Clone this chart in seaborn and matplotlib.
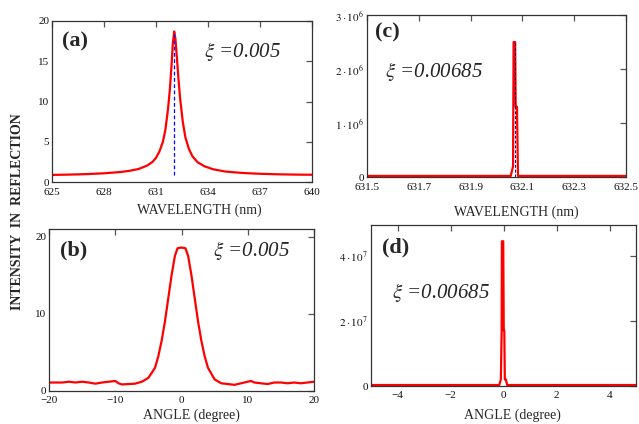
import numpy as np
import pandas as pd
import matplotlib
matplotlib.use("Agg")
import matplotlib.pyplot as plt
import seaborn as sns
from matplotlib.ticker import FuncFormatter

sns.set_style("white")
plt.rcParams['font.family'] = ['Liberation Serif', 'DejaVu Serif']
plt.rcParams['mathtext.fontset'] = 'stix'
plt.rcParams['axes.unicode_minus'] = True

# ---- data ----
wl_a = [625, 626, 627, 628, 629, 629.5, 630, 630.5, 630.8, 631.0, 631.2, 631.4, 631.55,
        631.7, 631.8, 631.9, 631.97, 632.05, 632.12, 632.2, 632.3, 632.4, 632.55, 632.7,
        632.9, 633.1, 633.4, 633.8, 634.3, 635, 636, 637, 638, 639, 640]
int_a = [0.88, 0.92, 0.98, 1.08, 1.25, 1.4, 1.62, 2.05, 2.5, 3.0, 3.8, 5.0, 6.6,
         9.2, 11.5, 14.6, 17.2, 18.7, 17.8, 15.6, 12.7, 10.2, 7.4, 5.5,
         4.1, 3.2, 2.45, 1.95, 1.58, 1.3, 1.12, 1.02, 0.96, 0.92, 0.9]
peak_a = 632.05

ang_b = [-20, -18, -17, -16, -15, -14, -13, -12, -11, -10, -9.5, -9, -8, -7, -6, -5,
         -4, -3.5, -3, -2.5, -2, -1.5, -1, -0.6, 0, 0.6, 1, 1.5, 2, 2.5, 3, 3.5, 4,
         5, 6, 7, 8, 9, 10, 10.5, 11, 12, 13, 14, 15, 16, 17, 18, 19, 20]
int_b = [1.1, 1.1, 1.2, 1.1, 1.2, 1.1, 0.95, 1.1, 1.2, 1.3, 1.0, 0.85, 0.9, 0.95, 1.2, 1.7,
         3.0, 4.5, 6.5, 9.0, 12.0, 15.0, 17.5, 18.5, 18.6, 18.5, 17.5, 15.0, 12.0, 9.0, 6.5, 4.5, 3.0,
         1.5, 1.0, 0.9, 0.8, 1.0, 1.2, 1.3, 1.1, 1.0, 0.9, 1.1, 1.1, 1.0, 1.1, 1.0, 1.1, 1.2]

wl_c = [631.5, 632.055, 632.064, 632.066, 632.072, 632.074, 632.079, 632.083, 632.5]
int_c = [2e4, 2e4, 2e5, 2.5e6, 2.5e6, 1.3e6, 1.3e6, 2e4, 2e4]
peak_c = 632.072

ang_d = [-5, -0.16, -0.1, -0.07, -0.06, -0.01, 0.01, 0.03, 0.05, 0.09, 0.14, 5]
int_d = [3e5, 3e5, 2e6, 1.7e7, 4.45e7, 4.45e7, 1.7e7, 1.7e7, 2e6, 2e6, 3e5, 3e5]

labels = ["(a)", "(b)", "(c)", "(d)"]
xi_a = r"$\xi$ =0.005"
xi_c = r"$\xi$ =0.00685"

W, H = 639, 424
fig = plt.figure(figsize=(W / 100, H / 100), dpi=100)

def axbox(l, t, r, b):
    return [l / W, 1 - b / H, (r - l) / W, (b - t) / H]

axa = fig.add_axes(axbox(52, 21, 312, 182))
axc = fig.add_axes(axbox(367, 15, 626, 177))
axb = fig.add_axes(axbox(49, 229, 314, 391))
axd = fig.add_axes(axbox(371, 225, 636, 386))

red = "#ff0000"
lw = 1.6

sns.lineplot(x=wl_a, y=int_a, ax=axa, color=red, lw=lw, sort=False)
axa.plot([peak_a, peak_a], [0.9, 18.5], color="#0000ff", lw=0.9, ls=(0, (3, 2)))
sns.lineplot(x=ang_b, y=int_b, ax=axb, color=red, lw=lw, sort=False)
sns.lineplot(x=wl_c, y=int_c, ax=axc, color=red, lw=lw, sort=False)
axc.plot([peak_c, peak_c], [0, 2.5e6], color="#000080", lw=0.7, ls=(0, (3, 2)))
sns.lineplot(x=ang_d, y=int_d, ax=axd, color=red, lw=lw, sort=False)

axa.set_xlim(625, 640); axa.set_ylim(0, 20)
axa.set_xticks([625, 628, 631, 634, 637, 640]); axa.set_yticks([0, 5, 10, 15, 20])
axb.set_xlim(-20, 20); axb.set_ylim(0, 21)
axb.set_xticks([-20, -10, 0, 10, 20]); axb.set_yticks([0, 10, 20])
axc.set_xlim(631.5, 632.5); axc.set_ylim(0, 3e6)
axc.set_xticks([631.5, 631.7, 631.9, 632.1, 632.3, 632.5]); axc.set_yticks([0, 1e6, 2e6, 3e6])
axd.set_xlim(-5, 5); axd.set_ylim(0, 4.95e7)
axd.set_xticks([-4, -2, 0, 2, 4]); axd.set_yticks([0, 2e7, 4e7])

def sci(v, pos):
    if v == 0:
        return "0"
    e = int(np.floor(np.log10(abs(v))))
    m = v / 10 ** e
    return r"$%d\cdot10^{%d}$" % (round(m), e)

axc.yaxis.set_major_formatter(FuncFormatter(sci))
axd.yaxis.set_major_formatter(FuncFormatter(sci))
axc.xaxis.set_major_formatter(FuncFormatter(lambda v, p: "%.1f" % v))

for ax in (axa, axb, axc, axd):
    ax.set_xlabel(""); ax.set_ylabel("")
    for s in ax.spines.values():
        s.set_color("#333333"); s.set_linewidth(0.9)
    ax.tick_params(direction="in", length=4, width=0.9, color="#555555",
                   top=True, right=True, labelsize=8, pad=2, labelcolor="#111111")

axa.tick_params(axis="x", pad=4.5)
axc.tick_params(axis="x", pad=4.0)
axb.tick_params(axis="x", pad=3.5)
axd.tick_params(axis="x", pad=3.5)

axa.set_xlabel("WAVELENGTH (nm)", fontsize=10)
axc.set_xlabel("WAVELENGTH (nm)", fontsize=10)
axb.set_xlabel("ANGLE (degree)", fontsize=10)
axd.set_xlabel("ANGLE (degree)", fontsize=10)
axa.xaxis.set_label_coords(0.565, -0.174)
axc.xaxis.set_label_coords(0.575, -0.216)
axb.xaxis.set_label_coords(0.536, -0.148)
axd.xaxis.set_label_coords(0.532, -0.18)
for ax in (axa, axb, axc, axd):
    ax.xaxis.label.set_va("center")

tkw = dict(fontsize=16, fontweight="bold", va="center", ha="left")
axa.text(0.04, 0.87, labels[0], transform=axa.transAxes, **tkw)
axb.text(0.04, 0.87, labels[1], transform=axb.transAxes, **tkw)
axc.text(0.03, 0.89, labels[2], transform=axc.transAxes, **tkw)
axd.text(0.04, 0.86, labels[3], transform=axd.transAxes, **tkw)

xkw = dict(fontsize=15, style="italic", va="center", ha="left")
axa.text(0.585, 0.81, xi_a, transform=axa.transAxes, **xkw)
axb.text(0.62, 0.87, xi_a, transform=axb.transAxes, **xkw)
axc.text(0.07, 0.65, xi_c, transform=axc.transAxes, **xkw)
axd.text(0.08, 0.58, xi_c, transform=axd.transAxes, **xkw)

fig.text(18 / W, 1 - 212 / H, "INTENSITY  IN  REFLECTION", rotation=90, fontsize=10,
         fontweight="bold", ha="center", va="center")

fig.savefig("out.png", dpi=100)
